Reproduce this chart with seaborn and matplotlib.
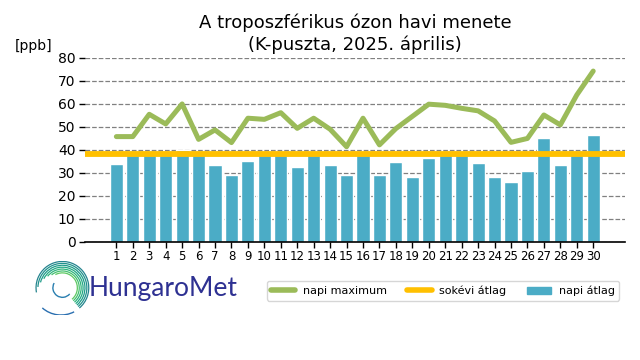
import numpy as np
import pandas as pd
import seaborn as sns
import matplotlib.pyplot as plt
from matplotlib.patches import Arc, Patch
from matplotlib.lines import Line2D

# daily values, April 2025, K-puszta
days = list(range(1, 31))
napi_atlag = [33.9, 38.0, 38.0, 38.0, 40.0, 38.0, 33.5, 29.1, 35.2, 38.0,
              38.0, 32.6, 38.0, 33.5, 29.1, 38.0, 29.1, 34.8, 28.3, 36.5,
              38.0, 38.0, 34.3, 28.3, 26.1, 30.9, 45.2, 33.5, 38.0, 46.5]
napi_max = [45.8, 45.8, 55.5, 51.3, 60.0, 44.6, 48.7, 43.2, 53.8, 53.3,
            56.2, 49.4, 53.8, 49.0, 41.4, 53.8, 42.2, 49.3, 54.6, 59.9,
            59.4, 58.1, 57.0, 52.6, 43.3, 45.0, 55.2, 50.9, 63.9, 74.3]
sokevi_atlag = 38.3

df = pd.DataFrame({'nap': [str(d) for d in days], 'atlag': napi_atlag,
                   'max': napi_max, 'pos': np.arange(len(days))})

c_bar = '#4BACC6'
c_max = '#9BBB59'
c_avg = '#FFC000'

sns.set_style('white')
plt.rcParams['font.family'] = ['DejaVu Sans']
plt.rcParams['text.color'] = 'black'
plt.rcParams['xtick.color'] = 'black'
plt.rcParams['ytick.color'] = 'black'
plt.rcParams['axes.labelcolor'] = 'black'

fig = plt.figure(figsize=(6.4, 3.6), dpi=100)
ax = fig.add_axes([0.133, 0.328, 0.844, 0.511])

sns.barplot(data=df, x='nap', y='atlag', color=c_bar, width=0.8,
            saturation=1, ax=ax, zorder=2)
ax.axhline(sokevi_atlag, color=c_avg, lw=4.2, zorder=3)
sns.lineplot(data=df, x='pos', y='max', color=c_max, lw=3.6, ax=ax, zorder=4)

ax.set_xlim(-1.9, 30.95)
ax.set_ylim(0, 80)
ax.set_yticks(range(0, 81, 10))
ax.yaxis.grid(True, ls='--', color='#808080', lw=0.9, zorder=0)
ax.set_axisbelow(True)
for s in ['top', 'right', 'left']:
    ax.spines[s].set_visible(False)
ax.spines['bottom'].set_color('black')
ax.spines['bottom'].set_linewidth(1.2)
ax.tick_params(axis='y', left=True, length=4, width=1, labelsize=10, pad=3)
ax.tick_params(axis='x', bottom=True, length=4, width=1, labelsize=8.5, pad=2)
ax.set_xlabel('')
ax.set_ylabel('')

ax.set_title('A troposzférikus ózon havi menete\n(K-puszta, 2025. április)',
             fontsize=13, pad=6, color='black')
fig.text(0.023, 0.86, '[ppb]', fontsize=10)

handles = [Line2D([], [], color=c_max, lw=4),
           Line2D([], [], color=c_avg, lw=4),
           Patch(color=c_bar)]
fig.legend(handles, ['napi maximum', 'sokévi átlag', 'napi átlag'],
           loc='center', bbox_to_anchor=(0.692, 0.192), ncol=3, fontsize=8,
           frameon=True, handlelength=2.2, columnspacing=1.8,
           borderpad=0.4, handleheight=0.6, handletextpad=0.7)

# logo
lax = fig.add_axes([0.055, 0.125, 0.085, 0.151])
lax.set_xlim(-1, 1)
lax.set_ylim(-1, 1)
lax.set_aspect('equal')
lax.axis('off')
radii = [0.97, 0.90, 0.83, 0.76, 0.69, 0.62, 0.55]
for i, r in enumerate(radii):
    col = plt.cm.viridis(0.45 + 0.35 * i / len(radii))
    lax.add_patch(Arc((0, 0), 2 * r, 2 * r, theta1=-50, theta2=190 - 12 * i,
                      color=col, lw=0.9))
lax.add_patch(Arc((0, 0), 0.7, 0.7, theta1=150, theta2=320,
                  color='#2a7fb0', lw=1.0))
lax.add_patch(Arc((-0.05, -0.05), 2.0, 1.9, theta1=225, theta2=300,
                  color='#2a6fb0', lw=1.0))
fig.text(0.138, 0.198, 'HungaroMet', fontsize=19, color='#2e3192',
         family='Lato', va='center')

fig.savefig('out.png', dpi=100)
